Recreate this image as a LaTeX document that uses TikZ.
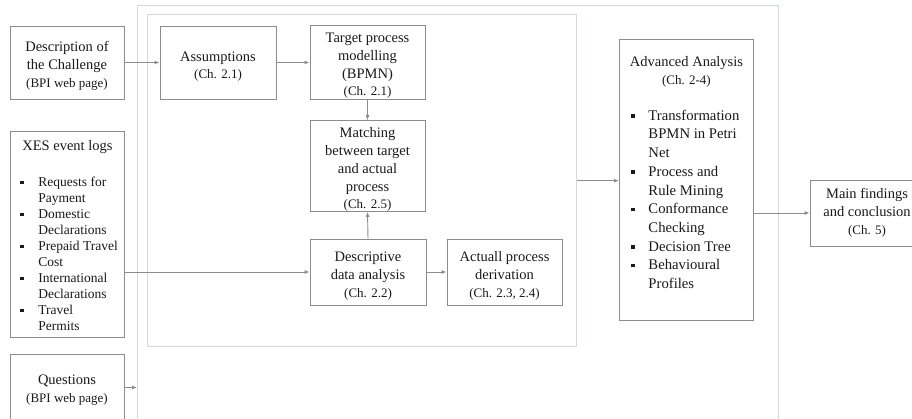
\documentclass[tikz,border=0pt]{standalone}
\usepackage{fontspec}
\setmainfont{Liberation Serif}
\usetikzlibrary{arrows.meta}
\definecolor{boxgray}{HTML}{8C8C8C}
\definecolor{framec}{HTML}{D3D9E0}
\definecolor{arrowc}{HTML}{8C8C8C}
\definecolor{txt}{HTML}{1A1A1A}
\newcommand\bigf{\fontsize{14.5}{18}\selectfont}
\newcommand\smf{\fontsize{13}{17}\selectfont}
\newcommand\bsq{\rule[2.5pt]{3.5pt}{3.5pt}}
\newcommand\st{\rule{0pt}{17pt}}
% bullet item: #1 bullet offset, #2 text offset, #3 text
\newcommand\bitem[3]{\par\noindent\hangindent=#2\hangafter=1\makebox[#2][l]{\hspace{#1}\bsq}#3\par}
\begin{document}
\begin{tikzpicture}[x=1pt,y=-1pt,
  box/.style={draw=boxgray, line width=0.9pt, fill=white, text=txt, align=center, inner sep=0pt, font=\bigf},
  frame/.style={draw=framec, line width=1.4pt, inner sep=0pt},
  arr/.style={draw=arrowc, line width=0.9pt, -{Latex[length=5pt,width=4pt]}}]
\useasboundingbox (0,0) rectangle (912,419);
% frames
\node[frame, minimum width=641pt, minimum height=450pt, anchor=north west] (outer) at (137,5) {};
\node[frame, minimum width=429pt, minimum height=332pt, anchor=north west] (inner) at (147,14) {};
% left column
\node[box, minimum width=114pt, minimum height=73pt] (desc) at (67,62.5)
  {\st Description of\\the Challenge\\{\smf (BPI web page)}};
\node[box, anchor=north west] (xes) at (10,131)
  {\parbox[c][206pt][t]{114pt}{\raggedright\vspace*{9pt}%
   {\centering XES event logs\par}\vspace{20pt}%
   \fontsize{13.5}{16}\selectfont
   \bitem{10pt}{28pt}{Requests for\newline Payment}%
   \bitem{10pt}{28pt}{Domestic\newline Declarations}%
   \bitem{10pt}{28pt}{Prepaid Travel\newline Cost}%
   \bitem{10pt}{28pt}{International\newline Declarations}%
   \bitem{10pt}{28pt}{Travel\newline Permits}}};
\node[box, minimum width=114pt, minimum height=73pt] (quest) at (67,390.5)
  {Questions\\{\smf (BPI web page)}};
% inner boxes
\node[box, minimum width=116pt, minimum height=73pt] (assum) at (218,62.5)
  {\st Assumptions\\[-1pt]{\smf (Ch. 2.1)}};
\node[box, minimum width=115pt, minimum height=74pt] (target) at (367.5,62)
  {\st Target process\\modelling\\(BPMN)\\[-1pt]{\smf (Ch. 2.1)}};
\node[box, minimum width=115pt, minimum height=90pt] (match) at (367.5,166)
  {\st Matching\\between target\\and actual\\process\\[-1pt]{\smf (Ch. 2.5)}};
\node[box, minimum width=116pt, minimum height=66pt] (descr) at (368,272)
  {\st Descriptive\\data analysis\\{\smf (Ch. 2.2)}};
\node[box, minimum width=115pt, minimum height=66pt] (act) at (504.5,272)
  {\st Actuall process\\derivation\\{\smf (Ch. 2.3, 2.4)}};
% right
\node[box, anchor=north west] (adv) at (619,39)
  {\parbox[c][281pt][t]{134pt}{\raggedright\vspace*{17pt}%
   {\centering Advanced Analysis\\{\smf (Ch. 2-4)}\par}\vspace{17pt}%
   \fontsize{14.7}{18.7}\selectfont
   \bitem{12pt}{29pt}{Transformation\newline BPMN in Petri\newline Net}%
   \bitem{12pt}{29pt}{Process and\newline Rule Mining}%
   \bitem{12pt}{29pt}{Conformance\newline Checking}%
   \bitem{12pt}{29pt}{Decision Tree}%
   \bitem{12pt}{29pt}{Behavioural\newline Profiles}}};
\node[box, minimum width=114pt, minimum height=66pt] (main) at (867,213)
  {Main findings\\and conclusion\\{\smf (Ch. 5)}};
% connectors
\draw[arr] (desc.east) -- (assum.west);
\draw[arr] (assum.east) -- (assum.east -| target.west);
\draw[arr] (target.south) -- (match.north);
\draw[arr] (descr.north) -- (match.south);
\draw[arr] (descr.west -| xes.east) -- (descr.west);
\draw[arr] (descr.east) -- (act.west);
\draw[arr] (inner.east) -- (inner.east -| adv.west);
\draw[arr] (main.west -| adv.east) -- (main.west);
\draw[arr] ([yshift=3pt]quest.east) -- ([yshift=3pt]quest.east -| outer.west);
\end{tikzpicture}
\end{document}
